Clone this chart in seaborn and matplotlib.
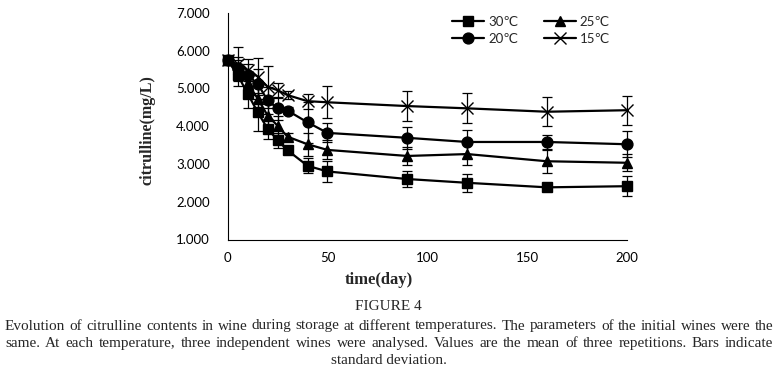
import numpy as np
import pandas as pd
import matplotlib
matplotlib.use("Agg")
import matplotlib.pyplot as plt
import seaborn as sns

# storage time (days) and citrulline content (mg/L), mean and SD per temperature
days = [0, 5, 10, 15, 20, 25, 30, 40, 50, 90, 120, 160, 200]

t30 = [5.74, 5.35, 4.86, 4.37, 3.93, 3.63, 3.36, 2.95, 2.80, 2.60, 2.50, 2.38, 2.41]
sd30 = [0.05, 0.30, 0.38, 0.50, 0.27, 0.20, 0.10, 0.20, 0.28, 0.20, 0.24, 0.06, 0.26]

t25 = [5.74, 5.50, 5.13, 4.73, 4.28, 4.01, 3.72, 3.52, 3.37, 3.21, 3.26, 3.07, 3.03]
sd25 = [0.05, 0.25, 0.30, 0.35, 0.30, 0.25, 0.10, 0.30, 0.25, 0.25, 0.28, 0.30, 0.23]

t20 = [5.74, 5.53, 5.35, 5.12, 4.68, 4.47, 4.41, 4.10, 3.82, 3.69, 3.58, 3.58, 3.52]
sd20 = [0.05, 0.30, 0.30, 0.40, 0.35, 0.31, 0.10, 0.55, 0.25, 0.29, 0.33, 0.19, 0.34]

t15 = [5.74, 5.64, 5.48, 5.31, 5.04, 4.95, 4.82, 4.66, 4.63, 4.53, 4.47, 4.38, 4.42]
sd15 = [0.05, 0.45, 0.30, 0.48, 0.55, 0.20, 0.10, 0.20, 0.42, 0.40, 0.40, 0.39, 0.38]

labels = ["30℃", "25℃", "20℃", "15℃"]
yticks = [1, 2, 3, 4, 5, 6, 7]
xticks = [0, 50, 100, 150, 200]

caption_title = "FIGURE 4"
caption_lines = [
    "Evolution of citrulline contents in wine during storage at different temperatures. The parameters of the initial wines were the",
    "same. At each temperature, three independent wines were analysed. Values are the mean of three repetitions. Bars indicate",
    "standard deviation.",
]

sns.set_style("white")
plt.rcParams["font.family"] = ["Lato", "DejaVu Sans"]

W, H = 778, 383
fig = plt.figure(figsize=(W / 100, H / 100), dpi=100)
ax = fig.add_axes([227.7 / W, (H - 239.5) / H, 399 / W, 226.8 / H])

series = [(t30, sd30, "s", 7.2), (t25, sd25, "^", 7.8), (t20, sd20, "o", 7.8), (t15, sd15, "x", 8.5)]
handles = {}
for (vals, sd, mk, ms), lab in zip(series, labels):
    df = pd.DataFrame({"day": days, "value": vals})
    ax.errorbar(days, vals, yerr=sd, fmt="none", ecolor="black",
                elinewidth=0.9, capsize=3.5, capthick=0.9, clip_on=False, zorder=2)
    sns.lineplot(data=df, x="day", y="value", ax=ax, color="black",
                 marker=mk, markersize=ms, markeredgecolor="black",
                 markeredgewidth=1.0, linewidth=1.6, clip_on=False, zorder=3)
    handles[lab] = ax.lines[-1]

ax.set_xlim(0, 200)
ax.set_ylim(1, 7)
ax.set_xticks(xticks)
ax.set_yticks(yticks)
ax.set_yticklabels([f"{v:.3f}" for v in yticks])
ax.tick_params(length=0, labelsize=9.5, colors="black")
ax.tick_params(axis="y", pad=13)
ax.tick_params(axis="x", pad=9)
ax.set_xlabel("")
ax.set_ylabel("")
sns.despine(ax=ax)
for s in ["left", "bottom"]:
    ax.spines[s].set_color("black")
    ax.spines[s].set_linewidth(0.8)

order = ["30℃", "20℃", "25℃", "15℃"]
ax.legend([handles[k] for k in order], order, ncol=2, frameon=False,
          loc="upper left", bbox_to_anchor=(452 / W, 1 - 16 / H),
          bbox_transform=fig.transFigure, borderaxespad=0, borderpad=0,
          handlelength=2.45, handletextpad=0.3, columnspacing=1.9,
          labelspacing=0.35, numpoints=1, prop={"size": 9.5})

serif = ["Liberation Serif", "DejaVu Serif"]
fig.text(148 / W, 1 - 130.5 / H, "citrulline(mg/L)", rotation=90, ha="center",
         va="center", family=serif, fontweight="bold", fontsize=11.5)
fig.text(379.3 / W, 1 - 280 / H, "time(day)", ha="center", va="center",
         family=serif, fontweight="bold", fontsize=12)
fig.text(388.5 / W, 1 - 306 / H, caption_title, ha="center", va="center",
         family=serif, fontsize=11)

# justified caption: spread words between the left and right margins
renderer = fig.canvas.get_renderer()
x0, x1 = 5.0, 773.0
fs = 11.0
while True:
    t = fig.text(0, 0, caption_lines[0], family=serif, fontsize=fs)
    wide = t.get_window_extent(renderer).width
    t2 = fig.text(0, 0, caption_lines[1], family=serif, fontsize=fs)
    wide = max(wide, t2.get_window_extent(renderer).width)
    t.remove()
    t2.remove()
    if wide <= (x1 - x0) - 4 or fs < 7:
        break
    fs -= 0.1

line_y = [326, 343.3, 360.7]
for i, (line, yy) in enumerate(zip(caption_lines, line_y)):
    if i == len(caption_lines) - 1:
        fig.text(389 / W, 1 - yy / H, line, ha="center", va="center",
                 family=serif, fontsize=fs)
        continue
    words = line.split(" ")
    texts = [fig.text(0, 1 - yy / H, w, ha="left", va="center", family=serif, fontsize=fs)
             for w in words]
    widths = [t.get_window_extent(renderer).width for t in texts]
    gap = ((x1 - x0) - sum(widths)) / (len(words) - 1)
    x = x0
    for t, w in zip(texts, widths):
        t.set_x(x / W)
        x += w + gap

fig.savefig("out.png", dpi=100, facecolor="white")
